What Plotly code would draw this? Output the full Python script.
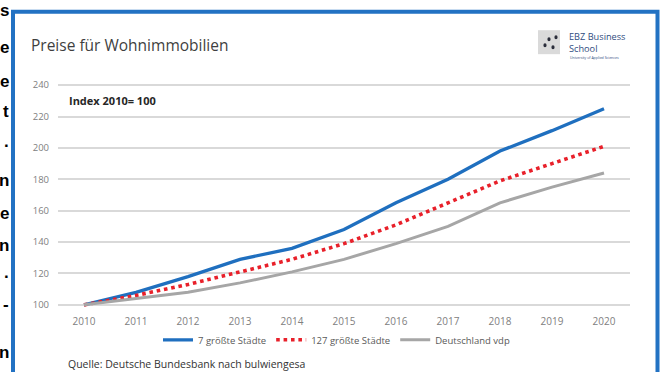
import plotly.graph_objects as go

# Index values (2010 = 100)
years = [2010, 2011, 2012, 2013, 2014, 2015, 2016, 2017, 2018, 2019, 2020]
top7_cities = [100, 108, 118, 129, 136, 148, 165, 180, 198, 211, 225]
top127_cities = [100, 106, 113, 121, 129, 139, 151, 165, 179, 190, 201]
germany_vdp = [100, 104, 108, 114, 121, 129, 139, 150, 165, 175, 184]
y_ticks = [100, 120, 140, 160, 180, 200, 220, 240]

series_names = ["7 größte Städte", "127 größte Städte", "Deutschland vdp"]
margin_letters = ["s", "e", "e", "t", ".", "n", "e", "n", ".", "-", "n"]

# Page geometry (pixels)
W, H = 661, 372
L, R = 58, 31
T, B = 81.86, 63.86
PW = W - L - R
PH = H - T - B


def px(x):
    return (x - L) / PW


def py(y):
    return (H - B - y) / PH


FONT = "Open Sans"

fig = go.Figure()
fig.add_trace(go.Scatter(x=years, y=top7_cities, mode="lines", name=series_names[0],
                         line=dict(color="#1F6FBF", width=3.3)))
fig.add_trace(go.Scatter(x=years, y=top127_cities, mode="lines", name=series_names[1],
                         line=dict(color="#E8202A", width=3.6, dash="3.6px,3.8px")))
fig.add_trace(go.Scatter(x=years, y=germany_vdp, mode="lines", name=series_names[2],
                         line=dict(color="#A6A6A6", width=3.0)))

annotations = [
    dict(text="Preise für Wohnimmobilien", x=px(29), y=py(45), xanchor="left", yanchor="middle",
         font=dict(size=15.5, color="#3F3F3F", family=FONT)),
    dict(text="<b>Index 2010= 100</b>", x=px(67), y=py(100), xanchor="left", yanchor="middle",
         font=dict(size=11, color="#262626", family=FONT)),
    dict(text="Quelle: Deutsche Bundesbank nach bulwiengesa", x=px(66), y=py(364),
         xanchor="left", yanchor="middle", font=dict(size=10.5, color="#333333", family=FONT)),
    dict(text="EBZ Business<br>School", x=px(567), y=py(42.5), xanchor="left", yanchor="middle",
         align="left", font=dict(size=9.2, color="#2F4C80", family=FONT)),
    dict(text="University of Applied Sciences", x=px(568), y=py(57.5), xanchor="left", yanchor="middle",
         font=dict(size=3.5, color="#2F4C80", family=FONT)),
]

# text column of the surrounding page, cut at the left edge
letter_y = [10, 47, 81, 111, 141, 180, 214, 246, 273, 305, 353]
for ch, yy in zip(margin_letters, letter_y):
    annotations.append(dict(text="<b>" + ch + "</b>", x=px(10.5), y=py(yy), xanchor="right",
                            yanchor="middle",
                            font=dict(size=17, color="#000000", family="Liberation Sans")))

for a in annotations:
    a.update(xref="paper", yref="paper", showarrow=False)

shapes = [
    # blue frame around the chart
    dict(type="rect", xref="paper", yref="paper", x0=px(13), x1=px(657.5), y0=py(11.5), y1=py(390),
         line=dict(color="#2272C3", width=4), fillcolor="rgba(0,0,0,0)", layer="above"),
    # logo tile
    dict(type="rect", xref="paper", yref="paper", x0=px(538), x1=px(560), y0=py(30), y1=py(54),
         line=dict(width=0), fillcolor="#DADADA", layer="below"),
]
for cx, cy in [(545, 45), (549, 39), (553, 47), (556, 37)]:
    shapes.append(dict(type="circle", xref="paper", yref="paper",
                       x0=px(cx - 1.6), x1=px(cx + 1.6), y0=py(cy + 2), y1=py(cy - 2),
                       line=dict(width=0), fillcolor="#2A2D3A"))

fig.update_layout(
    width=W, height=H,
    margin=dict(l=L, r=R, t=T, b=B, pad=0),
    paper_bgcolor="white", plot_bgcolor="white",
    font=dict(family=FONT),
    showlegend=True,
    legend=dict(orientation="h", x=px(158), y=py(340), xanchor="left", yanchor="middle",
                font=dict(size=9.5, color="#595959", family=FONT), bgcolor="rgba(0,0,0,0)",
                itemwidth=30),
    annotations=annotations,
    shapes=shapes,
    xaxis=dict(range=[2009.5, 2020.5], tickvals=years, ticktext=[str(y) for y in years],
               showgrid=False, zeroline=False, showline=False, ticks="",
               tickfont=dict(size=10, color="#808080", family=FONT), ticklabelstandoff=6,
               fixedrange=True),
    yaxis=dict(range=[98, 242], tickvals=y_ticks, showgrid=True, gridcolor="#D9D9D9", gridwidth=1.5,
               zeroline=False, showline=False, ticks="",
               tickfont=dict(size=9.5, color="#808080", family=FONT), ticklabelstandoff=8,
               fixedrange=True),
)

fig.write_html("out.html", config={"displayModeBar": False})
